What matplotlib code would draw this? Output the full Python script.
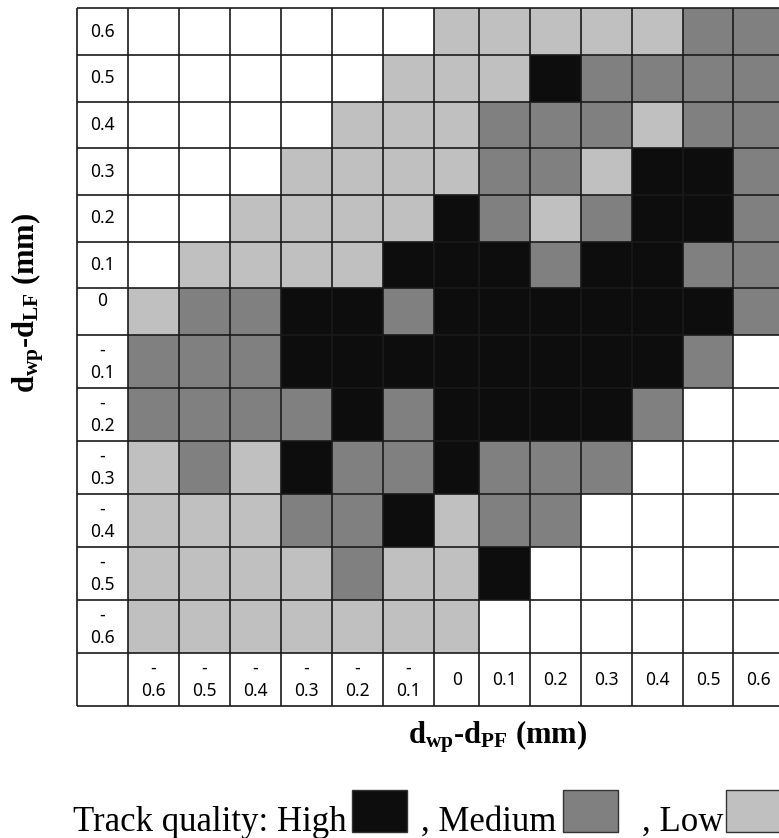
import numpy as np
import matplotlib
matplotlib.use("Agg")
import matplotlib.pyplot as plt
from matplotlib.colors import ListedColormap, BoundaryNorm
from matplotlib.patches import Rectangle

plt.rcParams["mathtext.fontset"] = "custom"
plt.rcParams["mathtext.rm"] = "Liberation Serif"
plt.rcParams["mathtext.bf"] = "Liberation Serif:bold"

# offsets (mm) along each axis of the table
pf_offsets = [-0.6, -0.5, -0.4, -0.3, -0.2, -0.1, 0, 0.1, 0.2, 0.3, 0.4, 0.5, 0.6]
lf_offsets = [0.6, 0.5, 0.4, 0.3, 0.2, 0.1, 0, -0.1, -0.2, -0.3, -0.4, -0.5, -0.6]

# track quality per cell: 0 = none, 1 = low, 2 = medium, 3 = high
# rows follow lf_offsets (top to bottom), columns follow pf_offsets
quality = [
    [0, 0, 0, 0, 0, 0, 1, 1, 1, 1, 1, 2, 2],
    [0, 0, 0, 0, 0, 1, 1, 1, 3, 2, 2, 2, 2],
    [0, 0, 0, 0, 1, 1, 1, 2, 2, 2, 1, 2, 2],
    [0, 0, 0, 1, 1, 1, 1, 2, 2, 1, 3, 3, 2],
    [0, 0, 1, 1, 1, 1, 3, 2, 1, 2, 3, 3, 2],
    [0, 1, 1, 1, 1, 3, 3, 3, 2, 3, 3, 2, 2],
    [1, 2, 2, 3, 3, 2, 3, 3, 3, 3, 3, 3, 2],
    [2, 2, 2, 3, 3, 3, 3, 3, 3, 3, 3, 2, 0],
    [2, 2, 2, 2, 3, 2, 3, 3, 3, 3, 2, 0, 0],
    [1, 2, 1, 3, 2, 2, 3, 2, 2, 2, 0, 0, 0],
    [1, 1, 1, 2, 2, 3, 1, 2, 2, 0, 0, 0, 0],
    [1, 1, 1, 1, 2, 1, 1, 3, 0, 0, 0, 0, 0],
    [1, 1, 1, 1, 1, 1, 1, 0, 0, 0, 0, 0, 0],
]
legend_levels = [3, 2, 1]
legend_names = ["High", "Medium", "Low"]

level_colors = ["white", "#c0c0c0", "#808080", "#0d0d0d"]
cmap = ListedColormap(level_colors)
norm = BoundaryNorm(np.arange(-0.5, 4), cmap.N)

W, H = 779, 838
fig = plt.figure(figsize=(W / 100, H / 100), dpi=100)

# table geometry in pixels
label_w = 51
col_w = [51] * 6 + [45.5] + [50.8] * 6
row_h = [46.7] * 7 + [53] * 6
label_h = 53
x_edges = np.concatenate([[0], np.cumsum([label_w] + col_w)])
y_edges = np.concatenate([[0], np.cumsum(row_h + [label_h])])
tab_left, tab_top = 77, 8.3

ax = fig.add_axes([tab_left / W, 1 - (tab_top + y_edges[-1]) / H,
                   x_edges[-1] / W, y_edges[-1] / H])
ax.set_xlim(0, x_edges[-1])
ax.set_ylim(y_edges[-1], 0)
ax.axis("off")

ax.pcolormesh(x_edges[1:], y_edges[:-1], np.array(quality), cmap=cmap, norm=norm)

line_kw = dict(color="#1a1a1a", lw=1.2, clip_on=False)
ax.vlines(x_edges, 0, y_edges[-1], **line_kw)
ax.hlines(y_edges, 0, x_edges[-1], **line_kw)


def offset_label(v):
    if v < 0:
        return "-\n%g" % abs(v)
    return "%g" % v


tick_kw = dict(family="Noto Sans", fontsize=12.5, color="black", linespacing=1.35,
               ha="center", multialignment="center")

# row labels in the first column
xc = label_w / 2
for i, v in enumerate(lf_offsets):
    if v == 0:
        ax.text(xc, y_edges[i] + 3, offset_label(v), va="top", **tick_kw)
    else:
        ax.text(xc, (y_edges[i] + y_edges[i + 1]) / 2, offset_label(v),
                va="center", **tick_kw)

# column labels in the bottom row
yc = (y_edges[-2] + y_edges[-1]) / 2
for j, v in enumerate(pf_offsets):
    ax.text((x_edges[j + 1] + x_edges[j + 2]) / 2, yc, offset_label(v),
            va="center", **tick_kw)

title_kw = dict(family="Liberation Serif", weight="bold", fontsize=22)
fig.text(497 / W, 1 - 743 / H, r"$\mathbf{d_{wp}}$-$\mathbf{d_{PF}}$ (mm)",
         ha="center", va="baseline", **title_kw)
fig.text(28 / W, 1 - 303 / H, r"$\mathbf{d_{wp}}$-$\mathbf{d_{LF}}$ (mm)",
         ha="center", va="center", rotation=90, **title_kw)

# legend row
leg_kw = dict(family="Liberation Serif", fontsize=25, va="baseline")
base = 1 - 831 / H
fig.text(73 / W, base, "Track quality: " + legend_names[0], **leg_kw)
fig.text(421 / W, base, ", " + legend_names[1], **leg_kw)
fig.text(642 / W, base, ", " + legend_names[2], **leg_kw)
for x0, lvl in zip([352, 563, 726], legend_levels):
    fig.add_artist(Rectangle((x0 / W, 1 - 832 / H), 55 / W, 42 / H,
                             transform=fig.transFigure, facecolor=level_colors[lvl],
                             edgecolor="#333333", lw=1.0))

fig.savefig("out.png", dpi=100)
